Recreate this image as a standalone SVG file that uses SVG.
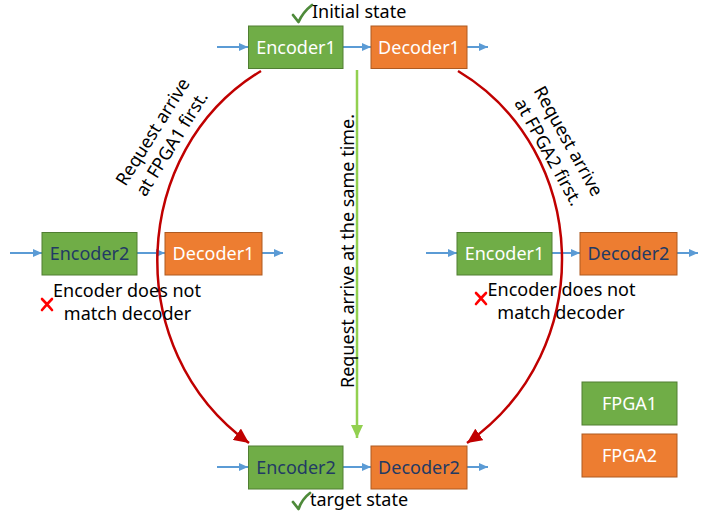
<svg xmlns="http://www.w3.org/2000/svg" width="703" height="514" viewBox="0 0 703 514">
  <style>
    text { font-family: "Noto Sans", "Open Sans", "Liberation Sans", sans-serif; font-size: 18px; }
    .f1 { fill: #70ad47; stroke: #507e32; stroke-width: 1; }
    .f2 { fill: #ed7d31; stroke: #ae5a21; stroke-width: 1; }
    .lbl { text-anchor: middle; }
    .w { fill: #ffffff; }
    .d { fill: #223a64; }
    .k { fill: #000000; }
    .flow { stroke: #5b9bd5; stroke-width: 2; fill: none; marker-end: url(#blueHead); }
    .path1 { stroke: #c00000; stroke-width: 2.5; fill: none; marker-end: url(#redHead); }
    .ok { stroke: #4e8a3a; stroke-width: 2.8; fill: none; stroke-linecap: round; stroke-linejoin: round; }
    .bad { stroke: #ff0000; stroke-width: 2.6; fill: none; stroke-linecap: round; }
  </style>
  <defs>
    <marker id="blueHead" markerUnits="userSpaceOnUse" markerWidth="10" markerHeight="8" refX="9" refY="4" orient="auto">
      <path d="M0,0 L9,4 L0,8 Z" fill="#5b9bd5"/>
    </marker>
    <marker id="redHead" markerUnits="userSpaceOnUse" markerWidth="16" markerHeight="14" refX="15" refY="7" orient="auto">
      <path d="M0,0 L15,7 L0,14 Z" fill="#c00000"/>
    </marker>
    <marker id="greenHead" markerUnits="userSpaceOnUse" markerWidth="14" markerHeight="12" refX="13" refY="6" orient="auto">
      <path d="M0,0 L13,6 L0,12 Z" fill="#92d050"/>
    </marker>
  </defs>

  <!-- connectors -->
  <g id="connectors">
    <!-- data flow, top row -->
    <line class="flow" x1="217" y1="47" x2="248" y2="47"/>
    <line class="flow" x1="343" y1="47" x2="371" y2="47"/>
    <line class="flow" x1="467" y1="47" x2="488" y2="47"/>
    <!-- data flow, left middle row -->
    <line class="flow" x1="10" y1="253" x2="42" y2="253"/>
    <line class="flow" x1="137" y1="253" x2="165" y2="253"/>
    <line class="flow" x1="262" y1="253" x2="283" y2="253"/>
    <!-- data flow, right middle row -->
    <line class="flow" x1="426" y1="253" x2="457" y2="253"/>
    <line class="flow" x1="552" y1="253" x2="580" y2="253"/>
    <line class="flow" x1="677" y1="253" x2="698" y2="253"/>
    <!-- data flow, bottom row -->
    <line class="flow" x1="217" y1="467" x2="248" y2="467"/>
    <line class="flow" x1="343" y1="467" x2="371" y2="467"/>
    <line class="flow" x1="467" y1="467" x2="488" y2="467"/>
    <!-- transitions -->
    <path class="path1" d="M261,71 C130,150 120,350 249,443"/>
    <path class="path1" d="M458,71 C590,150 600,350 467,443"/>
    <line x1="357" y1="70" x2="357" y2="438" stroke="#92d050" stroke-width="2.5" marker-end="url(#greenHead)"/>
  </g>

  <!-- top: initial state -->
  <g id="top-encoder1">
    <rect class="f1" x="248.5" y="26" width="94.5" height="42.5"/>
    <text class="lbl w" x="296" y="53.5">Encoder1</text>
  </g>
  <g id="top-decoder1">
    <rect class="f2" x="371" y="26" width="96" height="42.5"/>
    <text class="lbl w" x="419" y="53.5">Decoder1</text>
  </g>
  <g id="initial-state">
    <path class="ok" d="M293,15 L298.5,22 Q303,12 312,5"/>
    <text class="k" x="312" y="18">Initial state</text>
  </g>

  <!-- left middle -->
  <g id="left-encoder2">
    <rect class="f1" x="42" y="232.5" width="95" height="42.5"/>
    <text class="lbl d" x="89.5" y="260">Encoder2</text>
  </g>
  <g id="left-decoder1">
    <rect class="f2" x="165" y="232.5" width="97" height="42.5"/>
    <text class="lbl w" x="213.5" y="260">Decoder1</text>
  </g>
  <g id="left-mismatch">
    <path class="bad" d="M42,299 Q47,304 52,310 M52,299 Q47,304 42,310"/>
    <text class="lbl k" x="127" y="297">Encoder does not</text>
    <text class="lbl k" x="127.5" y="320">match decoder</text>
  </g>

  <!-- right middle -->
  <g id="right-encoder1">
    <rect class="f1" x="457" y="232.5" width="95" height="42.5"/>
    <text class="lbl w" x="504.5" y="260">Encoder1</text>
  </g>
  <g id="right-decoder2">
    <rect class="f2" x="580" y="232.5" width="97" height="42.5"/>
    <text class="lbl d" x="628.5" y="260">Decoder2</text>
  </g>
  <g id="right-mismatch">
    <path class="bad" d="M476,293 Q481,298 486,304 M486,293 Q481,298 476,304"/>
    <text class="lbl k" x="561.5" y="296">Encoder does not</text>
    <text class="lbl k" x="561" y="319">match decoder</text>
  </g>

  <!-- bottom: target state -->
  <g id="bottom-encoder2">
    <rect class="f1" x="248.5" y="446" width="94.5" height="43"/>
    <text class="lbl d" x="296" y="474">Encoder2</text>
  </g>
  <g id="bottom-decoder2">
    <rect class="f2" x="371" y="446" width="96" height="43"/>
    <text class="lbl d" x="419" y="474">Decoder2</text>
  </g>
  <g id="target-state">
    <path class="ok" d="M293,502 L298.5,509 Q302,499 310,493"/>
    <text class="k" x="310" y="506">target state</text>
  </g>

  <!-- transition labels -->
  <g id="label-fpga1-first">
    <text class="lbl k" transform="translate(158,135) rotate(-58)">Request arrive</text>
    <text class="lbl k" transform="translate(177,147) rotate(-58)">at FPGA1 first.</text>
  </g>
  <g id="label-fpga2-first">
    <text class="lbl k" transform="translate(563,144) rotate(61)">Request arrive</text>
    <text class="lbl k" transform="translate(543,155) rotate(61)">at FPGA2 first.</text>
  </g>
  <g id="label-same-time">
    <text class="lbl k" transform="translate(354,251) rotate(-90)">Request arrive at the same time.</text>
  </g>

  <!-- legend -->
  <g id="legend-fpga1">
    <rect class="f1" x="582" y="382" width="95" height="43"/>
    <text class="lbl w" x="629.5" y="410">FPGA1</text>
  </g>
  <g id="legend-fpga2">
    <rect class="f2" x="582" y="434" width="95" height="43"/>
    <text class="lbl w" x="629.5" y="462">FPGA2</text>
  </g>
</svg>
